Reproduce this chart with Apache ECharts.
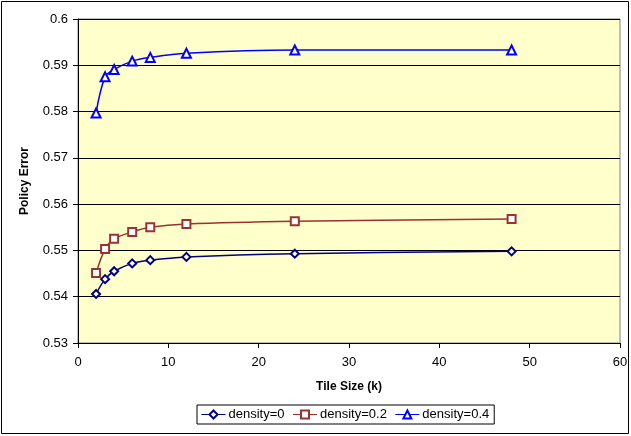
<!DOCTYPE html>
<html><head><meta charset="utf-8">
<script src="https://cdn.jsdelivr.net/npm/echarts@6/dist/echarts.min.js"></script>
<style>html,body{margin:0;padding:0;background:#fff}#c{width:631px;height:436px}</style>
</head><body><div id="c"></div>
<script>
const tileSizes = [2, 3, 4, 6, 8, 12, 24, 48];
const density0  = [0.5406, 0.5438, 0.5455, 0.5472, 0.5479, 0.5486, 0.5493, 0.5498];
const density02 = [0.5451, 0.5503, 0.5525, 0.5540, 0.5550, 0.5557, 0.5563, 0.5568];
const density04 = [0.5797, 0.5875, 0.5891, 0.5909, 0.5917, 0.5926, 0.5933, 0.5933];
const seriesNames = ['density=0', 'density=0.2', 'density=0.4'];
const xTicks = [0, 10, 20, 30, 40, 50, 60];
const yTicks = [0.53, 0.54, 0.55, 0.56, 0.57, 0.58, 0.59, 0.6];
const seriesColors = ['#000080', '#993333', '#0000FF'];

const font = 'Liberation Sans, Arial, sans-serif';
function pts(vals){ return tileSizes.map((x,i)=>[x, vals[i]]); }
function mk(name, vals, color, symbol){
  return {
    name, type:'line', data: pts(vals), smooth: 0.35,
    symbol, symbolSize: symbol==='emptyTriangle'?9:8, showSymbol:true,
    lineStyle:{color, width:1.5},
    itemStyle:{color, borderColor: color, borderWidth:1.2},
    emphasis:{disabled:true}
  };
}
const chart = echarts.init(document.getElementById('c'), null, {renderer:'canvas'});
chart.setOption({
  animation:false,
  backgroundColor:'#fff',
  graphic:[{type:'rect', shape:{x:1.5, y:1.5, width:627, height:432}, style:{fill:null, stroke:'#000', lineWidth:1}, silent:true, z:-1}],
  grid:{left:78, right:11, top:19, bottom:93, show:true, backgroundColor:'#FFFFCC', borderColor:'#808080', borderWidth:1},
  legend:{
    data: seriesNames,
    bottom:12, left:197,
    borderColor:'#000', borderWidth:1, padding:[3,5,3,4],
    itemGap:8, itemWidth:24, itemHeight:10,
    lineStyle:{width:1},
    itemStyle:{borderWidth:1},
    textStyle:{fontFamily:font, fontSize:13, color:'#000', padding:[0,0,0,-2]}
  },
  xAxis:{
    type:'value', min:0, max:60, interval:10,
    name:'Tile Size (k)', nameLocation:'middle', nameGap:38,
    nameTextStyle:{fontFamily:font, fontSize:12, fontWeight:'bold', color:'#000'},
    axisLine:{show:true, lineStyle:{color:'#000', width:1}},
    axisTick:{show:true, length:5, inside:false, lineStyle:{color:'#000'}},
    axisLabel:{fontFamily:font, fontSize:13, color:'#000', margin:13},
    splitLine:{show:false}
  },
  yAxis:{
    type:'value', min:0.53, max:0.6, interval:0.01,
    name:'Policy Error', nameLocation:'middle', nameGap:47,
    nameTextStyle:{fontFamily:font, fontSize:12, fontWeight:'bold', color:'#000'},
    axisLine:{show:true, lineStyle:{color:'#000', width:1}},
    axisTick:{show:true, length:5, inside:false, lineStyle:{color:'#000'}},
    axisLabel:{fontFamily:font, fontSize:13, color:'#000', margin:10,
      formatter: v => { const t = yTicks.find(y=>Math.abs(y-v)<1e-9); return t===undefined? '' : String(+t.toFixed(2)); }},
    splitLine:{show:true, lineStyle:{color:'#000', width:1}}
  },
  series:[
    mk(seriesNames[0], density0, seriesColors[0], 'emptyDiamond'),
    mk(seriesNames[1], density02, seriesColors[1], 'emptyRect'),
    mk(seriesNames[2], density04, seriesColors[2], 'emptyTriangle')
  ]
});
</script></body></html>
